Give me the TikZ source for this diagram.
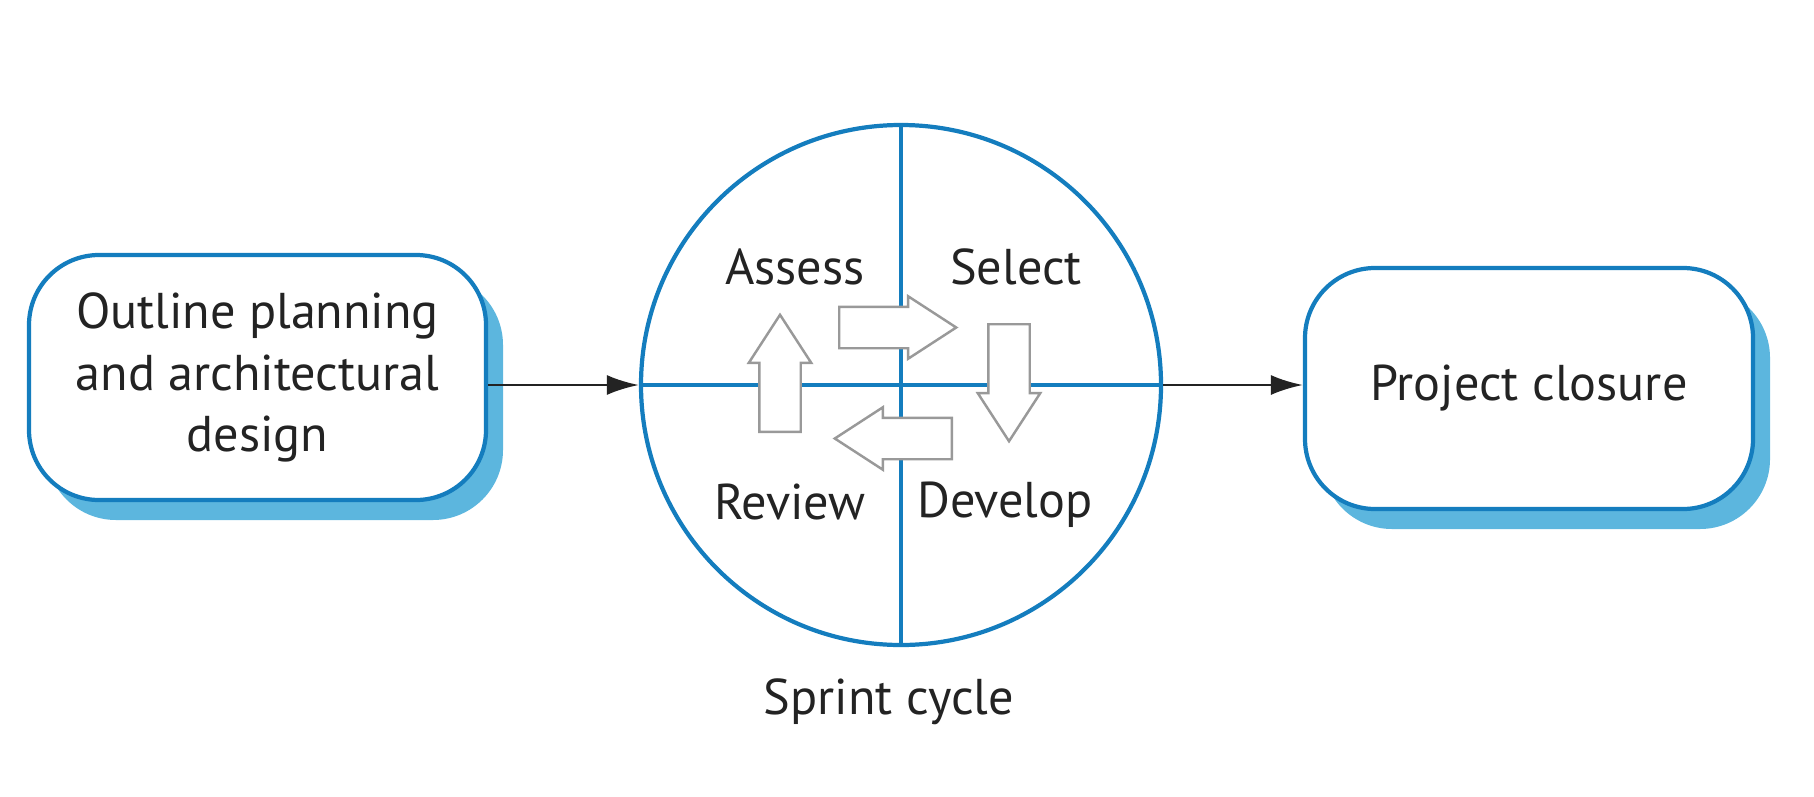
\documentclass[tikz,border=0pt]{standalone}
\usepackage{fontspec}
\setmainfont{PT Sans}
\usepackage{tikz}
\usetikzlibrary{arrows.meta,shapes.arrows,shadows}

\definecolor{lineblue}{RGB}{20,125,190}
\definecolor{shadeblue}{RGB}{92,182,222}
\definecolor{inkgray}{RGB}{35,35,35}

\begin{document}
\begin{tikzpicture}[
        font=\fontsize{14.3}{17.5}\selectfont, text=inkgray,
        phase/.style={draw=lineblue, line width=1.2pt, fill=white, rounded corners=0.7cm,
            drop shadow={shadow xshift=0.17cm, shadow yshift=-0.2cm, fill=shadeblue, opacity=1}},
        flow/.style={draw=inkgray, line width=0.8pt, -{Latex[length=0.32cm,width=0.2cm]}},
        turn/.style={single arrow, draw=gray!80, fill=white, line width=0.7pt, anchor=tail,
            minimum height=1.17cm, minimum width=0.6cm, inner sep=0.195cm,
            single arrow head extend=0.105cm, single arrow tip angle=66}
    ]
        \useasboundingbox (0,0) rectangle (18.14,7.96);

        \node[phase, minimum width=4.57cm, minimum height=2.45cm, align=center] (plan) at (2.575,4.185)
            {Outline planning\\and architectural\\design};
        \node[phase, minimum width=4.48cm, minimum height=2.41cm] (close) at (15.29,4.075) {Project closure};

        \node[circle, draw=lineblue, line width=1.2pt, minimum size=5.2cm, inner sep=0pt] (sprint) at (9.01,4.11) {};
        \draw[lineblue, line width=1.2pt] (sprint.north) -- (sprint.south);
        \draw[lineblue, line width=1.2pt] (sprint.west) -- (sprint.east);

        \node (assess) at (7.95,5.29) {Assess};
        \node (select) at (10.16,5.29) {Select};
        \node (review) at (7.90,2.94) {Review};
        \node (develop) at (10.05,2.91) {Develop};

        % block arrows placed by their tails
        \node[turn] (toselect) at (8.38,4.685) {};
        \node[turn, rotate=-90] (todevelop) at (10.09,4.73) {};
        \node[turn, rotate=180] (toreview) at (9.53,3.575) {};
        \node[turn, rotate=90] (toassess) at (7.80,3.63) {};

        \node (cycle) at (8.89,0.94) {Sprint cycle};

        \draw[flow] (plan.east |- sprint.west) -- (sprint.west);
        \draw[flow] (sprint.east) -- (close.west |- sprint.east);
\end{tikzpicture}
\end{document}
